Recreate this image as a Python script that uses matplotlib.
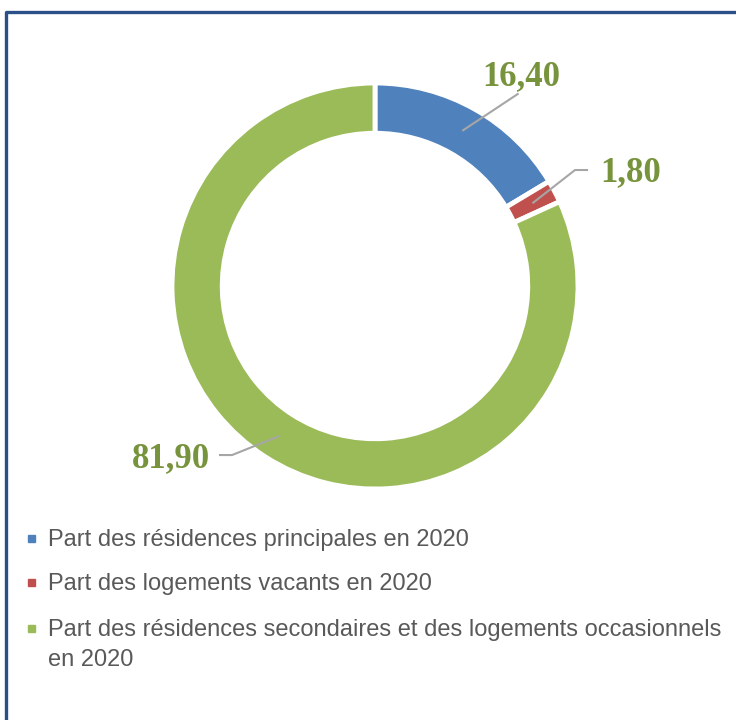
import matplotlib.pyplot as plt
import numpy as np
from matplotlib.lines import Line2D
from matplotlib.patches import Rectangle

# data
labels = ['Part des résidences principales en 2020',
          'Part des logements vacants en 2020',
          'Part des résidences secondaires et des logements occasionnels\nen 2020']
values = [16.40, 1.80, 81.90]
colors = ['#4F81BD', '#C0504D', '#9BBB59']
value_texts = ['16,40', '1,80', '81,90']

W, H = 736, 720
fig = plt.figure(figsize=(W / 100, H / 100), dpi=100)

# donut: center (375, 286) px, radius 201 px
cx, cy, R = 375, 286, 201
ax = fig.add_axes([(cx - R) / W, (H - cy - R) / H, 2 * R / W, 2 * R / H])
wedges, _ = ax.pie(values, colors=colors, startangle=90, counterclock=False,
                   radius=1.01, wedgeprops=dict(width=0.25, edgecolor='white', linewidth=3.5))
ax.set_xlim(-1, 1)
ax.set_ylim(-1, 1)
ax.set_aspect('equal')
ax.axis('off')

# leader lines + value labels
lab_col = '#77933C'
line_col = '#A6A6A6'
font_lab = dict(family=['Liberation Serif', 'DejaVu Serif'], fontsize=25,
                fontweight='bold', color=lab_col)
# (elbow point, end point, text position, alignment) per slice, in data units
layout = [
    ((0.71, 0.955), (0.71, 0.955), (0.726, 1.04), 'center'),
    ((0.995, 0.577), (1.055, 0.577), (1.12, 0.563), 'left'),
    ((-0.711, -0.841), (-0.771, -0.841), (-0.821, -0.86), 'right'),
]
for w, txt, (p1, p2, pt, ha) in zip(wedges, value_texts, layout):
    ang = np.deg2rad((w.theta1 + w.theta2) / 2)
    r0 = 0.89
    x0, y0 = r0 * np.cos(ang), r0 * np.sin(ang)
    ax.add_line(Line2D([x0, p1[0], p2[0]], [y0, p1[1], p2[1]],
                       color=line_col, lw=1.5, clip_on=False))
    ax.text(pt[0], pt[1], txt, ha=ha, va='center', clip_on=False, **font_lab)

# legend drawn by hand
leg_y = [538, 582, 628]
for lbl, c, y in zip(labels, colors, leg_y):
    fig.patches.append(Rectangle((28 / W, 1 - (y + 4) / H), 7 / W, 7 / H,
                                 transform=fig.transFigure, color=c))
    fig.text(48 / W, 1 - (y - 9) / H, lbl, ha='left', va='top',
             fontsize=17, color='#595959', linespacing=1.45,
             family=['Liberation Sans', 'DejaVu Sans'])

# frame (left and top edges visible)
fig.lines.append(Line2D([6 / W, 6 / W, 1.0], [0.0, 1 - 12 / H, 1 - 12 / H],
                        transform=fig.transFigure, color='#2B5087', lw=2.4))

fig.savefig('out.png', dpi=100)
